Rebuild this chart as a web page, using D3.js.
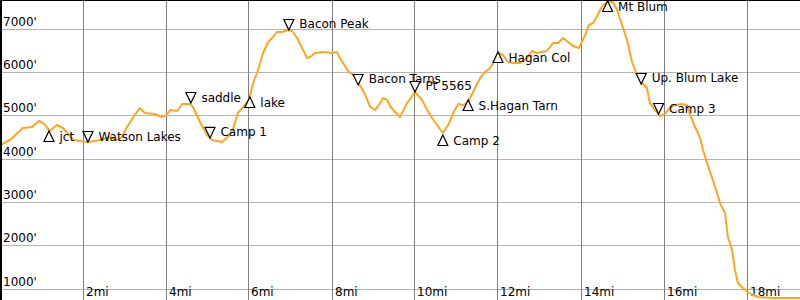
<!DOCTYPE html>
<html><head><meta charset="utf-8">
<script src="https://cdn.jsdelivr.net/npm/d3@7"></script>
<style>
body{margin:0;background:#fff}
svg{display:block}
text{font-family:"DejaVu Sans",sans-serif;font-size:12px;fill:#000}
</style>
</head><body>
<svg id="chart" width="800" height="300"></svg>
<script>
// Track profile: distance (miles) and elevation (feet)
const miles = [0,0.24,0.55,0.77,0.94,1.04,1.20,1.37,1.52,1.76,1.93,2.12,2.41,2.65,2.82,2.94,3.06,3.20,3.37,3.49,3.73,3.90,4.02,4.10,4.27,4.39,4.58,4.65,4.82,4.99,5.11,5.35,5.49,5.61,5.73,5.86,6.00,6.10,6.22,6.34,6.46,6.58,6.67,6.80,6.94,7.04,7.16,7.28,7.40,7.47,7.59,7.78,8.00,8.12,8.19,8.39,8.51,8.67,8.80,8.92,9.04,9.16,9.23,9.33,9.40,9.52,9.64,9.81,10.00,10.17,10.36,10.53,10.67,10.80,10.92,11.04,11.16,11.28,11.40,11.57,11.69,11.81,11.93,12.02,12.12,12.24,12.36,12.53,12.70,12.82,12.94,13.18,13.33,13.45,13.57,13.69,13.81,13.95,14.10,14.19,14.29,14.39,14.46,14.53,14.65,14.77,14.87,14.99,15.11,15.23,15.35,15.47,15.59,15.66,15.78,15.90,16.02,16.14,16.27,16.43,16.55,16.63,16.75,16.87,16.94,17.04,17.16,17.28,17.35,17.47,17.54,17.64,17.71,17.78,17.90,18.02,18.14,18.27,18.63,19.28];
const elevation = [4330,4445,4722,4745,4884,4838,4653,4791,4722,4445,4422,4399,4445,4514,4445,4514,4745,4953,5184,5068,5045,4976,5022,5138,5115,5276,5276,5207,4861,4561,4445,4399,4514,4676,5068,5207,5368,5761,6061,6453,6707,6822,6938,6938,6984,6961,6799,6568,6338,6361,6453,6476,6453,6476,6338,6038,5945,5714,5484,5207,5138,5299,5414,5368,5230,5091,4976,5299,5553,5368,5022,4791,4607,4791,5068,5276,5253,5322,5553,5876,6015,6107,6291,6453,6407,6245,6222,6222,6338,6499,6453,6499,6684,6684,6799,6707,6614,6568,6868,7099,7145,7307,7445,7561,7630,7630,7445,7099,6753,6245,5945,5761,5645,5299,5138,4999,5045,5184,5253,5276,5253,5022,4745,4491,4214,3914,3568,3222,2991,2761,2207,1907,1445,1145,1030,938,868,822,799,799];

// Waypoints
const wpNames = ["jct","Watson Lakes","saddle","Camp 1","lake","Bacon Peak","Bacon Tarns","Pt 5565","Camp 2","S.Hagan Tarn","Hagan Col","Mt Blum","Up. Blum Lake","Camp 3"];
const wpMiles = [1.18,2.12,4.60,5.06,6.02,6.96,8.63,10.0,10.67,11.28,12.0,14.64,15.45,15.87];
const wpElev  = [4653,4399,5299,4492,5438,6984,5715,5553,4561,5368,6476,7653,5738,5045];
const wpDir   = ["up","down","down","down","up","down","down","down","up","up","up","up","down","down"];

// Axis ticks
const xTicks = [2,4,6,8,10,12,14,16,18];
const xTickLabels = xTicks.map(d => d + "mi");
const yTicks = [1000,2000,3000,4000,5000,6000,7000];
const yTickLabels = yTicks.map(d => d + "'");

const W = 800, H = 300;
const svg = d3.select("#chart");
const x = d3.scaleLinear().domain([0, 800/41.5]).range([0, W]);
const y = d3.scaleLinear().domain([753, 7676]).range([H, 0]);

// horizontal grid
svg.append("g").selectAll("line").data(yTicks).join("line")
  .attr("x1", 0).attr("x2", W)
  .attr("y1", d => Math.floor(y(d)) + 0.5).attr("y2", d => Math.floor(y(d)) + 0.5)
  .attr("stroke", "#b4b4b4").attr("stroke-width", 1);
// vertical grid
svg.append("g").selectAll("line").data(xTicks).join("line")
  .attr("y1", 0).attr("y2", H)
  .attr("x1", d => Math.floor(x(d)) + 0.5).attr("x2", d => Math.floor(x(d)) + 0.5)
  .attr("stroke", "#808080").attr("stroke-width", 1);

// y labels
svg.append("g").selectAll("text").data(yTicks).join("text")
  .attr("x", 3).attr("y", d => Math.floor(y(d)) - 3)
  .text((d, i) => yTickLabels[i]);
// x labels
svg.append("g").selectAll("text").data(xTicks).join("text")
  .attr("x", d => Math.floor(x(d)) + 3).attr("y", 296)
  .text((d, i) => xTickLabels[i]);

// profile line
const pts = miles.map((m, i) => [m, elevation[i]]);
svg.append("path").datum(pts)
  .attr("d", d3.line().x(d => x(d[0])).y(d => y(d[1])))
  .attr("fill", "none").attr("stroke", "#ffa51e").attr("stroke-width", 2)
  .attr("stroke-linejoin", "round");

// waypoints
const wp = wpNames.map((n, i) => ({name: n, m: wpMiles[i], e: wpElev[i], dir: wpDir[i]}));
const g = svg.append("g").selectAll("g").data(wp).join("g")
  .attr("transform", d => `translate(${x(d.m)},${y(d.e)})`);
g.append("path")
  .attr("d", d => d.dir === "up" ? "M0,0 L5,10.5 L-5,10.5 Z" : "M0,0 L5,-10.5 L-5,-10.5 Z")
  .attr("fill", "#fff").attr("stroke", "#000").attr("stroke-width", 1.2)
  .attr("stroke-linejoin", "miter");
g.append("text")
  .attr("x", 10.5)
  .attr("y", d => d.dir === "up" ? 10 : -1.5)
  .text(d => d.name);

// frame
svg.append("line").attr("x1", 0).attr("x2", W).attr("y1", 0.5).attr("y2", 0.5).attr("stroke", "#000").attr("stroke-width", 1);
svg.append("line").attr("x1", 1).attr("x2", 1).attr("y1", 0).attr("y2", H).attr("stroke", "#000").attr("stroke-width", 2);
</script>
</body></html>
